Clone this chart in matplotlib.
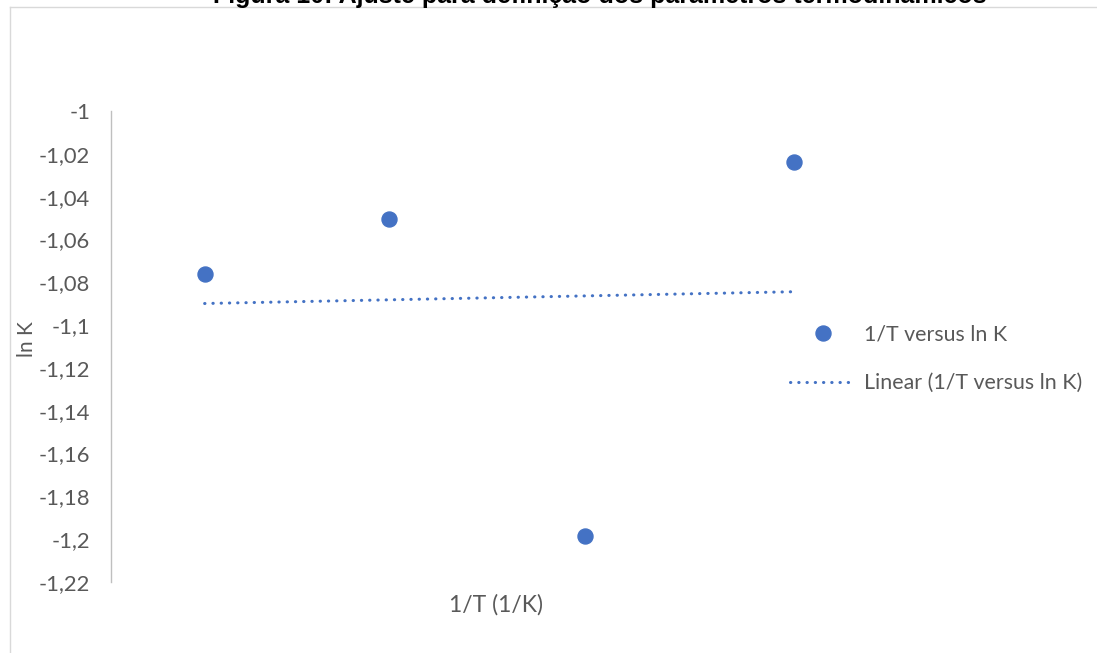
import matplotlib
matplotlib.use('Agg')
import matplotlib.pyplot as plt
from matplotlib.lines import Line2D
from matplotlib.ticker import FuncFormatter
import numpy as np

# dados
temps = [328, 318, 308, 298]  # K
inv_T = [1.0 / t for t in temps]
ln_K = [-1.076, -1.0505, -1.1986, -1.0238]
y_ticks = [-1.0, -1.02, -1.04, -1.06, -1.08, -1.1, -1.12, -1.14, -1.16, -1.18, -1.2, -1.22]

titulo = 'Figura 10: Ajuste para definição dos parâmetros termodinâmicos'
serie = '1/T versus ln K'

azul = '#4472C4'
cinza_txt = '#595959'

plt.rcParams['font.family'] = ['Lato', 'DejaVu Sans']

W, H = 1097, 653
fig = plt.figure(figsize=(W / 100, H / 100), dpi=100)
ax = fig.add_axes([111 / W, (H - 582) / H, 768 / W, 471 / H])

# borda da área do gráfico
fig.add_artist(Line2D([10 / W, 1], [1 - 7 / H, 1 - 7 / H], transform=fig.transFigure,
                      color='#D9D9D9', lw=1.0))
fig.add_artist(Line2D([10 / W, 10 / W], [0, 1 - 7 / H], transform=fig.transFigure,
                      color='#D9D9D9', lw=1.0))

ax.plot(inv_T, ln_K, 'o', color=azul, markersize=10.8, label=serie)

# linha de tendência linear
a, b = np.polyfit(inv_T, ln_K, 1)
xs = np.array([min(inv_T), max(inv_T)])
ax.plot(xs, a * xs + b, color=azul, lw=2.2, linestyle=(0, (0.1, 2.6)),
        dash_capstyle='round', label='Linear (%s)' % serie)

ax.set_xlim(0.003, 0.0034)
ax.set_ylim(-1.22, -1.0)
ax.set_yticks(y_ticks)
ax.yaxis.set_major_formatter(FuncFormatter(lambda v, p: ('%g' % round(v, 2)).replace('.', ',')))
ax.set_xticks([])
ax.tick_params(axis='y', length=0, pad=15, labelsize=15.8, labelcolor=cinza_txt)
for s in ['top', 'right', 'bottom']:
    ax.spines[s].set_visible(False)
ax.spines['left'].set_color('#BFBFBF')
ax.spines['left'].set_linewidth(1.0)
ax.patch.set_alpha(0)

fig.text(27 / W, 1 - 339 / H, 'ln K', rotation=90, ha='center', va='center',
         fontsize=15, color=cinza_txt)
fig.text(496 / W, 1 - 605 / H, '1/T (1/K)', ha='center', va='center',
         fontsize=16.5, color=cinza_txt)
fig.text(600 / W, 1 - 2.5 / H, titulo, ha='center', va='baseline', fontsize=18,
         fontweight='bold', family=['Liberation Sans', 'DejaVu Sans'], color='black')

ax.legend(loc='center left', bbox_to_anchor=(790 / W, 1 - 359 / H),
          bbox_transform=fig.transFigure, frameon=False, fontsize=15.4,
          labelcolor=cinza_txt, handlelength=3.05, handletextpad=0.4,
          labelspacing=1.32, borderpad=0, borderaxespad=0)

fig.savefig('out.png', dpi=100)
